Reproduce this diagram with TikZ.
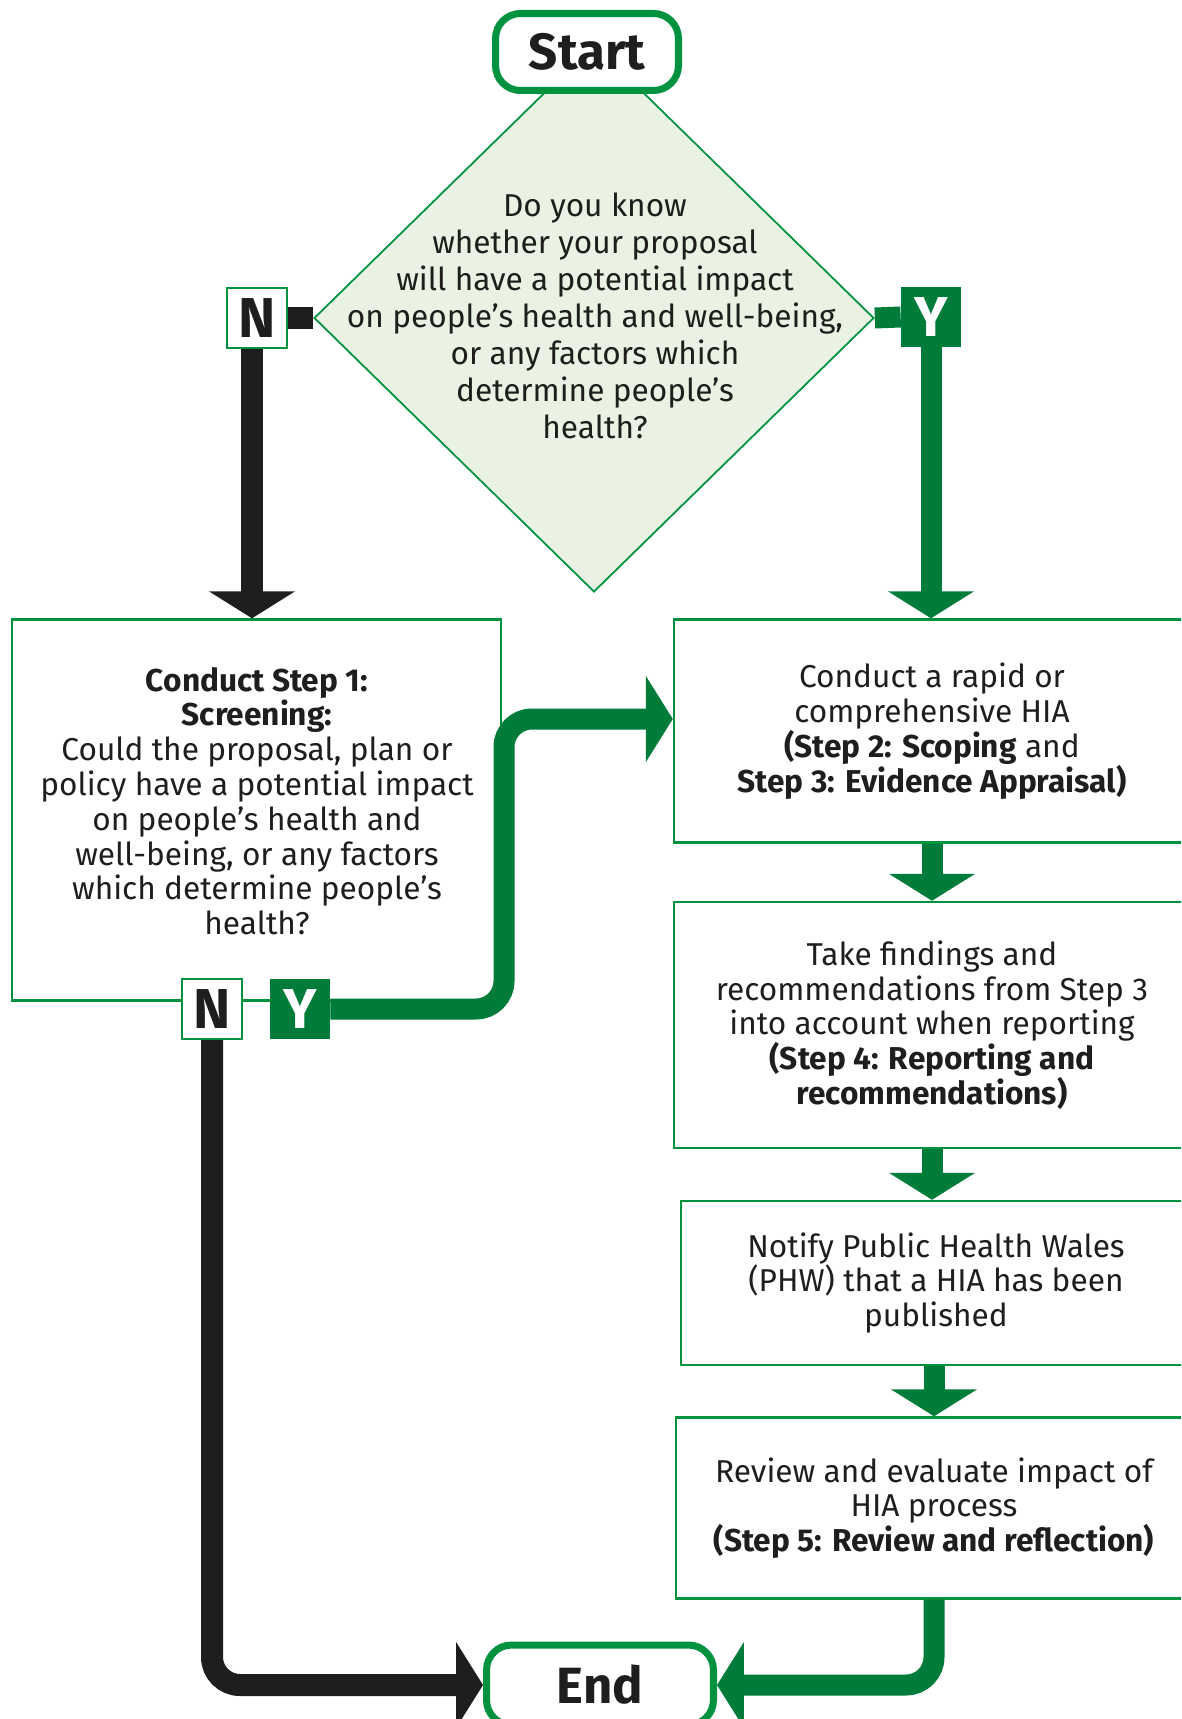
\documentclass[tikz,border=0pt]{standalone}
\usepackage{fontspec}
\setmainfont{Fira Sans}
\usetikzlibrary{positioning, shapes.geometric, arrows.meta}
\definecolor{hiaGreen}{HTML}{00923F}
\definecolor{hiaDark}{HTML}{007C3A}
\definecolor{hiaPale}{HTML}{EAF3E3}
\definecolor{hiaInk}{HTML}{1E1E1C}
\newcommand{\bodyfont}{\fontsize{18}{19.8}\selectfont}
\newcommand{\askfont}{\fontsize{18}{21.1}\selectfont}
\tikzset{
  terminal/.style={draw=hiaGreen, line width=4pt, fill=white, rounded corners=0.5cm,
    minimum width=3.66cm, minimum height=1.54cm, inner sep=0pt, text=hiaInk,
    font=\fontsize{29}{29}\selectfont\bfseries},
  stepbox/.style={draw=hiaGreen, line width=1.4pt, fill=white, align=center,
    text=hiaInk, font=\bodyfont},
  nobox/.style={draw=hiaGreen, line width=1.4pt, fill=white, minimum size=1.2cm,
    inner sep=0pt, text=hiaInk, font=\fontsize{32}{32}\selectfont\bfseries},
  yesbox/.style={fill=hiaDark, minimum size=1.2cm, inner sep=0pt, text=white,
    font=\fontsize{32}{32}\selectfont\bfseries},
  noline/.style={draw=hiaInk, line width=0.44cm, rounded corners=0.56cm},
  yesline/.style={draw=hiaDark, line width=0.42cm, rounded corners=0.56cm},
  arrowtip/.style={-{Triangle[width=1.7cm,length=0.54cm]}}
}

\begin{document}
\begin{tikzpicture}[x=0.02cm, y=-0.02cm]
  \useasboundingbox (0,0) rectangle (1181,1719);
  \clip (0,0) rectangle (1181,1719);

  % question
  \node[diamond, draw=hiaGreen, fill=hiaPale, line width=1pt, inner sep=0pt,
        minimum width=11.2cm, minimum height=10.96cm] (ask) at (594,318) {};
  \node[align=center, text=hiaInk, font=\askfont] (askq) at (595,316)
    {Do you know\\whether your proposal\\will have a potential impact\\on people’s health and well-being,\\or any factors which\\determine people’s\\health?};
  \node[terminal] (start) at (587,52) {Start};
  \node[terminal, minimum width=4.54cm, minimum height=1.6cm] (end) at (600,1685) {End};

  % steps
  \node[stepbox, minimum width=9.78cm, minimum height=7.62cm] (screen) at (256.5,810) {};
  \node[align=center, text=hiaInk, font=\bodyfont] (screenq) at (257,801)
    {\textbf{Conduct Step 1:}\\\textbf{Screening:}\\Could the proposal, plan or\\policy have a potential impact\\on people’s health and\\well-being, or any factors\\which determine people’s\\health?};
  \node[stepbox, minimum width=10.32cm, minimum height=4.46cm] (rapid) at (932,731)
    {Conduct a rapid or\\comprehensive HIA\\\textbf{(Step 2: Scoping} and\\\textbf{Step 3: Evidence Appraisal)}};
  \node[stepbox, minimum width=10.32cm, minimum height=4.92cm] (findings) at (932,1025)
    {Take findings and\\recommendations from Step 3\\into account when reporting\\\textbf{(Step 4: Reporting and}\\\textbf{recommendations)}};
  \node[stepbox, minimum width=10.2cm, minimum height=3.28cm] (notify) at (936,1283)
    {Notify Public Health Wales\\(PHW) that a HIA has been\\published};
  \node[stepbox, minimum width=10.32cm, minimum height=3.62cm] (review) at (934,1508)
    {Review and evaluate impact of\\HIA process\\\textbf{(Step 5: Review and reflection)}};

  % answers
  \node[nobox] (ntop) at (257,318) {N};
  \node[yesbox] (ytop) at (931,317) {Y};
  \node[nobox] (nbot) at (212,1009) {N};
  \node[yesbox] (ybot) at (300,1009) {Y};

  \draw[noline] (ask.west) -- (ntop.east);
  \draw[noline, arrowtip] ([xshift=-0.1cm]ntop.south) -- ([xshift=-0.1cm]ntop.south |- screen.north);
  \draw[yesline] (ask.east) -- (ytop.west);
  \draw[yesline, arrowtip] (ytop.south) -- (ytop.south |- rapid.north);
  \draw[yesline, arrowtip] (ybot.east) -- (504,1009) -- (504,719) -- (504,719 -| rapid.west);
  \draw[yesline, arrowtip] (rapid.south) -- (findings.north);
  \draw[yesline, arrowtip] (findings.south) -- (findings.south |- notify.north);
  \draw[yesline, arrowtip] (notify.south -| review.south) -- (review.north);
  \draw[noline, arrowtip] (nbot.south) -- (212,1685) -- (end.west);
  \draw[yesline, arrowtip] (review.south) -- (934,1685) -- (end.east);
\end{tikzpicture}
\end{document}
